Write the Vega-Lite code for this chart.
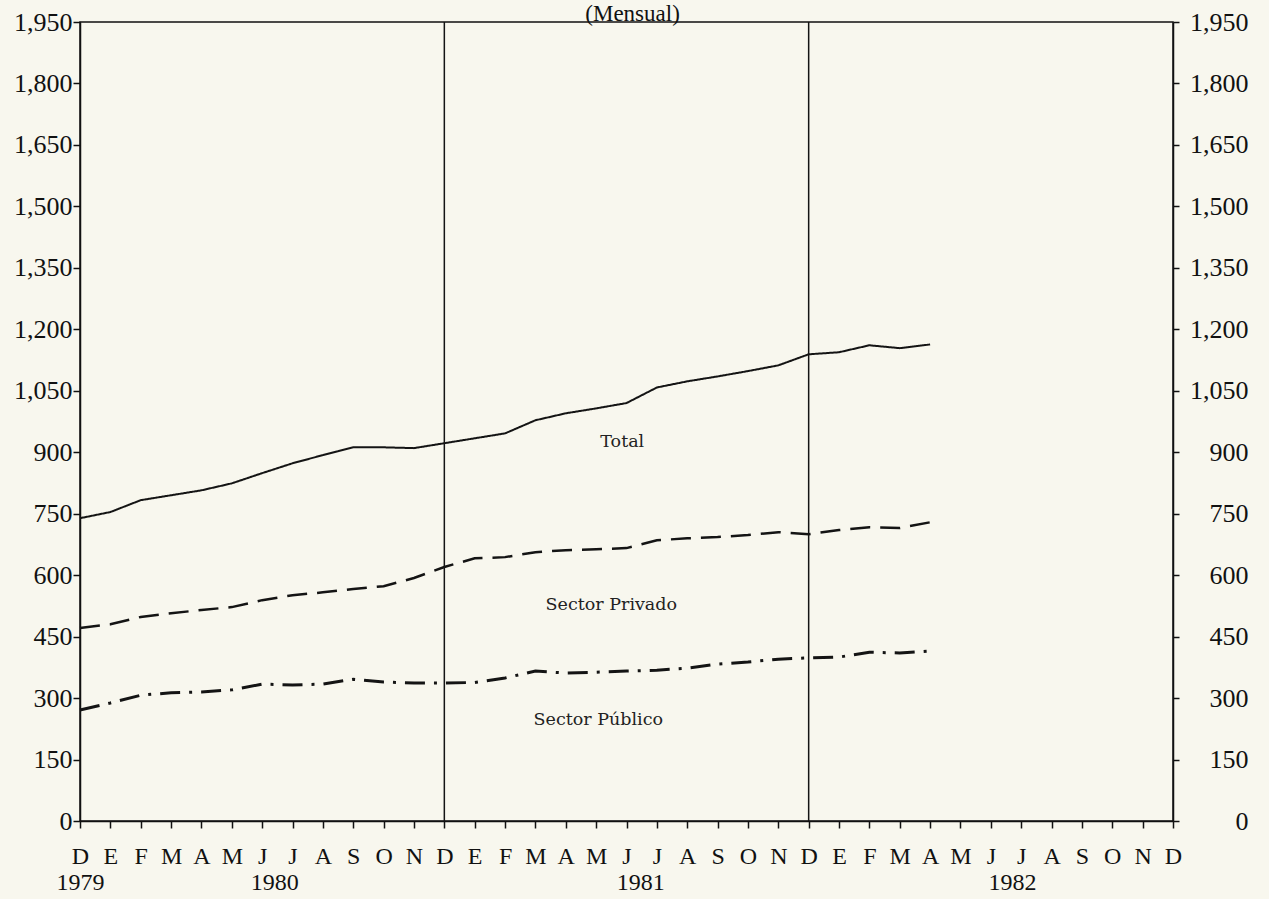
{
  "$schema": "https://vega.github.io/schema/vega-lite/v6.json",
  "width": 1093,
  "height": 799,
  "autosize": {"type": "none"},
  "padding": {"left": 80, "top": 22, "right": 96, "bottom": 78},
  "background": "#f8f7ee",
  "config": {
    "view": {"stroke": "#111111", "strokeWidth": 1.5},
    "axis": {"grid": false, "domainColor": "#111111", "domainWidth": 1.5, "tickColor": "#111111", "tickWidth": 1.5, "labelColor": "#111111", "labelFont": "Liberation Serif"}
  },
  "datasets": {
    "series": [
      {"mes": 0, "serie": "Total", "valor": 739}, {"mes": 1, "serie": "Total", "valor": 754}, {"mes": 2, "serie": "Total", "valor": 783}, {"mes": 3, "serie": "Total", "valor": 795}, {"mes": 4, "serie": "Total", "valor": 807}, {"mes": 5, "serie": "Total", "valor": 824}, {"mes": 6, "serie": "Total", "valor": 849}, {"mes": 7, "serie": "Total", "valor": 873}, {"mes": 8, "serie": "Total", "valor": 893}, {"mes": 9, "serie": "Total", "valor": 912}, {"mes": 10, "serie": "Total", "valor": 912}, {"mes": 11, "serie": "Total", "valor": 910}, {"mes": 12, "serie": "Total", "valor": 922}, {"mes": 13, "serie": "Total", "valor": 934}, {"mes": 14, "serie": "Total", "valor": 946}, {"mes": 15, "serie": "Total", "valor": 978}, {"mes": 16, "serie": "Total", "valor": 995}, {"mes": 17, "serie": "Total", "valor": 1007}, {"mes": 18, "serie": "Total", "valor": 1020}, {"mes": 19, "serie": "Total", "valor": 1058}, {"mes": 20, "serie": "Total", "valor": 1073}, {"mes": 21, "serie": "Total", "valor": 1085}, {"mes": 22, "serie": "Total", "valor": 1098}, {"mes": 23, "serie": "Total", "valor": 1112}, {"mes": 24, "serie": "Total", "valor": 1139}, {"mes": 25, "serie": "Total", "valor": 1144}, {"mes": 26, "serie": "Total", "valor": 1161}, {"mes": 27, "serie": "Total", "valor": 1154}, {"mes": 28, "serie": "Total", "valor": 1163},
      {"mes": 0, "serie": "Sector Privado", "valor": 471}, {"mes": 1, "serie": "Sector Privado", "valor": 480}, {"mes": 2, "serie": "Sector Privado", "valor": 498}, {"mes": 3, "serie": "Sector Privado", "valor": 507}, {"mes": 4, "serie": "Sector Privado", "valor": 515}, {"mes": 5, "serie": "Sector Privado", "valor": 522}, {"mes": 6, "serie": "Sector Privado", "valor": 539}, {"mes": 7, "serie": "Sector Privado", "valor": 551}, {"mes": 8, "serie": "Sector Privado", "valor": 558}, {"mes": 9, "serie": "Sector Privado", "valor": 566}, {"mes": 10, "serie": "Sector Privado", "valor": 573}, {"mes": 11, "serie": "Sector Privado", "valor": 593}, {"mes": 12, "serie": "Sector Privado", "valor": 620}, {"mes": 13, "serie": "Sector Privado", "valor": 641}, {"mes": 14, "serie": "Sector Privado", "valor": 644}, {"mes": 15, "serie": "Sector Privado", "valor": 656}, {"mes": 16, "serie": "Sector Privado", "valor": 661}, {"mes": 17, "serie": "Sector Privado", "valor": 663}, {"mes": 18, "serie": "Sector Privado", "valor": 666}, {"mes": 19, "serie": "Sector Privado", "valor": 685}, {"mes": 20, "serie": "Sector Privado", "valor": 690}, {"mes": 21, "serie": "Sector Privado", "valor": 693}, {"mes": 22, "serie": "Sector Privado", "valor": 698}, {"mes": 23, "serie": "Sector Privado", "valor": 705}, {"mes": 24, "serie": "Sector Privado", "valor": 700}, {"mes": 25, "serie": "Sector Privado", "valor": 710}, {"mes": 26, "serie": "Sector Privado", "valor": 717}, {"mes": 27, "serie": "Sector Privado", "valor": 715}, {"mes": 28, "serie": "Sector Privado", "valor": 729},
      {"mes": 0, "serie": "Sector Público", "valor": 271}, {"mes": 1, "serie": "Sector Público", "valor": 288}, {"mes": 2, "serie": "Sector Público", "valor": 307}, {"mes": 3, "serie": "Sector Público", "valor": 313}, {"mes": 4, "serie": "Sector Público", "valor": 315}, {"mes": 5, "serie": "Sector Público", "valor": 320}, {"mes": 6, "serie": "Sector Público", "valor": 334}, {"mes": 7, "serie": "Sector Público", "valor": 332}, {"mes": 8, "serie": "Sector Público", "valor": 334}, {"mes": 9, "serie": "Sector Público", "valor": 346}, {"mes": 10, "serie": "Sector Público", "valor": 339}, {"mes": 11, "serie": "Sector Público", "valor": 337}, {"mes": 12, "serie": "Sector Público", "valor": 337}, {"mes": 13, "serie": "Sector Público", "valor": 338}, {"mes": 14, "serie": "Sector Público", "valor": 349}, {"mes": 15, "serie": "Sector Público", "valor": 366}, {"mes": 16, "serie": "Sector Público", "valor": 361}, {"mes": 17, "serie": "Sector Público", "valor": 363}, {"mes": 18, "serie": "Sector Público", "valor": 366}, {"mes": 19, "serie": "Sector Público", "valor": 368}, {"mes": 20, "serie": "Sector Público", "valor": 373}, {"mes": 21, "serie": "Sector Público", "valor": 383}, {"mes": 22, "serie": "Sector Público", "valor": 388}, {"mes": 23, "serie": "Sector Público", "valor": 395}, {"mes": 24, "serie": "Sector Público", "valor": 398}, {"mes": 25, "serie": "Sector Público", "valor": 400}, {"mes": 26, "serie": "Sector Público", "valor": 412}, {"mes": 27, "serie": "Sector Público", "valor": 410}, {"mes": 28, "serie": "Sector Público", "valor": 415}
    ],
    "divisiones": [{"mes": 12}, {"mes": 24}],
    "etiquetas": [
      {"mes": 17.86, "valor": 924, "texto": "Total"},
      {"mes": 17.5, "valor": 527, "texto": "Sector Privado"},
      {"mes": 17.07, "valor": 246, "texto": "Sector Público"}
    ],
    "titulo": [{"mes": 18.2, "valor": 1952, "texto": "(Mensual)"}]
  },
  "layer": [
    {
      "data": {"name": "series"},
      "mark": {"type": "line", "color": "#141414"},
      "encoding": {
        "x": {
          "field": "mes", "type": "quantitative",
          "scale": {"domain": [0, 36], "nice": false, "zero": false},
          "axis": {
            "orient": "bottom", "title": null,
            "values": [0,1,2,3,4,5,6,7,8,9,10,11,12,13,14,15,16,17,18,19,20,21,22,23,24,25,26,27,28,29,30,31,32,33,34,35,36],
            "labelExpr": "['D','E','F','M','A','M','J','J','A','S','O','N'][datum.value % 12]",
            "tickSize": 7, "labelPadding": 16, "labelFontSize": 24,
            "labelOverlap": false, "labelFlush": false, "labelBound": false
          }
        },
        "y": {
          "field": "valor", "type": "quantitative",
          "scale": {"domain": [0, 1950], "nice": false},
          "axis": {
            "orient": "left", "title": null,
            "values": [0,150,300,450,600,750,900,1050,1200,1350,1500,1650,1800,1950],
            "format": ",d", "tickSize": 7, "labelPadding": 1, "labelFontSize": 26,
            "labelOverlap": false, "labelBound": false
          }
        },
        "strokeDash": {
          "field": "serie", "type": "nominal",
          "scale": {"domain": ["Total", "Sector Privado", "Sector Público"], "range": [[1, 0], [20, 10], [20, 9, 3, 9]]},
          "legend": null
        },
        "strokeWidth": {
          "field": "serie", "type": "nominal",
          "scale": {"domain": ["Total", "Sector Privado", "Sector Público"], "range": [2, 3, 2.6]},
          "legend": null
        }
      }
    },
    {
      "data": {"name": "divisiones"},
      "mark": {"type": "rule", "color": "#141414", "strokeWidth": 1.5},
      "encoding": {
        "x": {"field": "mes", "type": "quantitative", "scale": {"domain": [0, 36], "nice": false, "zero": false}, "axis": null}
      }
    },
    {
      "data": {"name": "etiquetas"},
      "mark": {"type": "text", "font": "DejaVu Serif", "fontSize": 17.5, "color": "#222222", "align": "center", "baseline": "middle"},
      "encoding": {
        "x": {
          "field": "mes", "type": "quantitative",
          "scale": {"domain": [0, 36], "nice": false, "zero": false},
          "axis": {
            "orient": "bottom", "title": null, "values": [0, 6.4, 18.45, 30.7],
            "labelExpr": "datum.value < 1 ? '1979' : datum.value < 12 ? '1980' : datum.value < 24 ? '1981' : '1982'",
            "ticks": false, "tickSize": 0, "domain": false, "labelPadding": 49, "labelFontSize": 24,
            "labelOverlap": false, "labelFlush": false, "labelBound": false
          }
        },
        "y": {
          "field": "valor", "type": "quantitative",
          "scale": {"domain": [0, 1950], "nice": false},
          "axis": {
            "orient": "right", "title": null,
            "values": [0,150,300,450,600,750,900,1050,1200,1350,1500,1650,1800,1950],
            "format": ",d", "tickSize": 6, "labelPadding": 69, "labelAlign": "right", "labelFontSize": 26,
            "labelOverlap": false, "labelBound": false
          }
        },
        "text": {"field": "texto", "type": "nominal"}
      }
    },
    {
      "data": {"name": "titulo"},
      "mark": {"type": "text", "font": "Liberation Serif", "fontSize": 23, "color": "#111111", "align": "center", "baseline": "alphabetic"},
      "encoding": {
        "x": {"field": "mes", "type": "quantitative", "scale": {"domain": [0, 36], "nice": false, "zero": false}, "axis": null},
        "y": {"field": "valor", "type": "quantitative", "scale": {"domain": [0, 1950], "nice": false}, "axis": null},
        "text": {"field": "texto", "type": "nominal"}
      }
    }
  ],
  "resolve": {"axis": {"x": "independent", "y": "independent"}}
}
